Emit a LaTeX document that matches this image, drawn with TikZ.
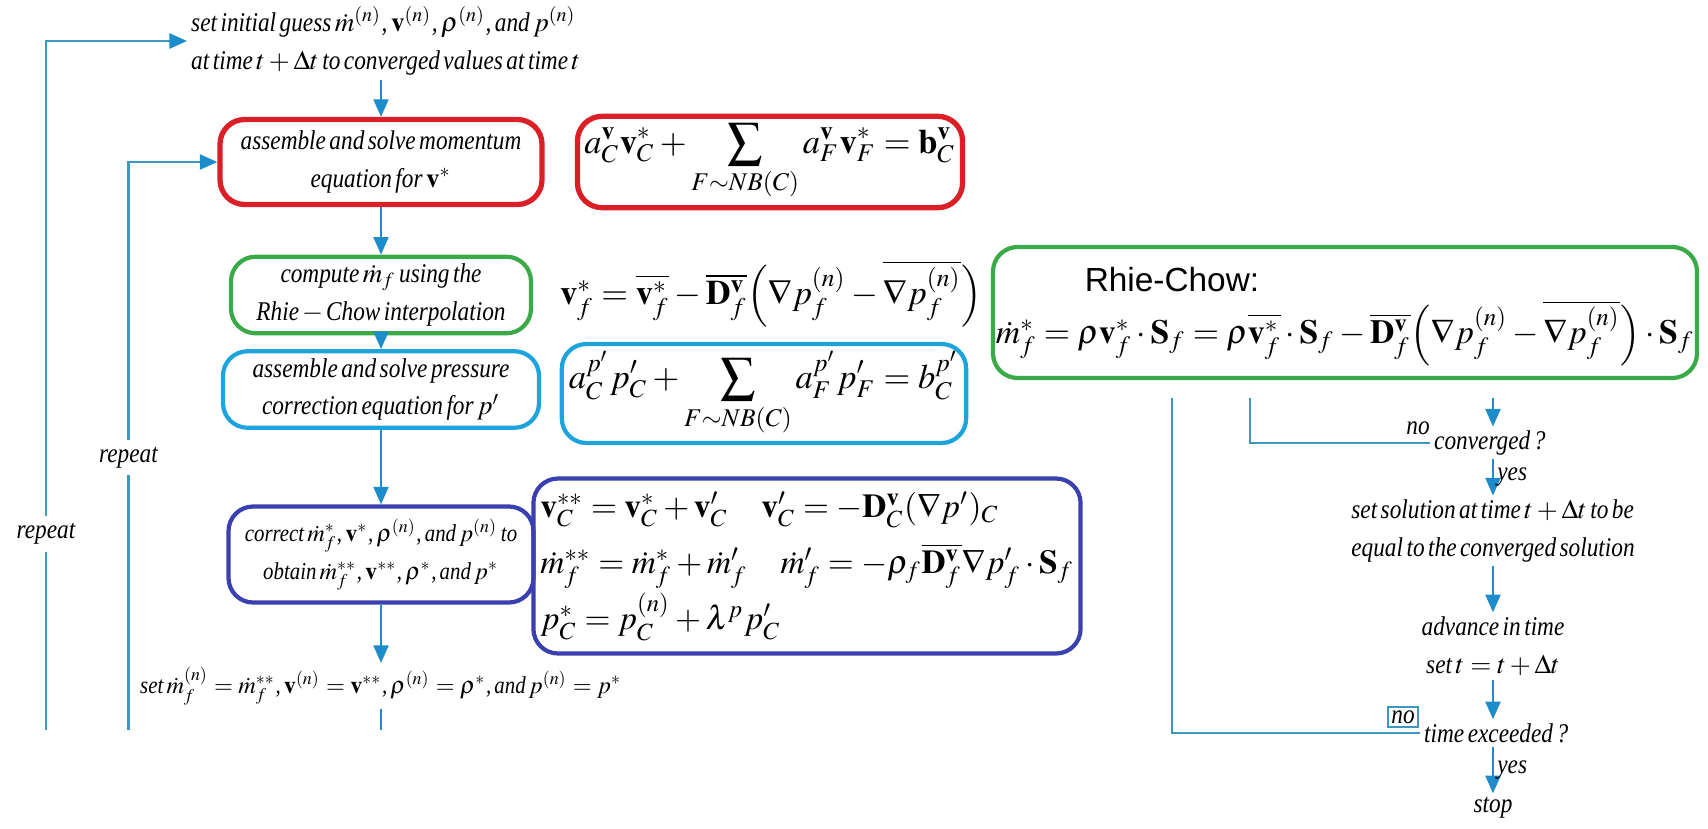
\documentclass[tikz,border=0pt]{standalone}
\usepackage{amsmath}
\usepackage{mathptmx}
\usepackage{fontspec}
\setmainfont{Liberation Serif}[FakeStretch=0.86, WordSpace=0.6]
\setsansfont{Liberation Sans}
\usetikzlibrary{arrows.meta, positioning, calc}
\definecolor{cred}{HTML}{DA1F26}
\definecolor{cgreen}{HTML}{3AAA48}
\definecolor{ccyan}{HTML}{1EA4DD}
\definecolor{cpurple}{HTML}{3B40B0}
\definecolor{carrow}{HTML}{1C8CCA}
\definecolor{cloop}{HTML}{3C98BE}
\tikzset{
  every picture/.style={font=\itshape\fontsize{7.7}{10.8}\selectfont},
  box/.style={draw=#1, rounded corners=7pt, line width=1.2pt, align=center, inner sep=2pt},
  box/.default=cred,
  eqbox/.style={draw=#1, rounded corners=7pt, line width=1.2pt, inner sep=2pt, font=\normalfont\fontsize{9.8}{15}\selectfont},
  eq/.style={inner sep=1pt, font=\normalfont\fontsize{9.8}{15}\selectfont},
  arrow/.style={-{Triangle[length=5pt, width=4.3pt]}, draw=carrow, line width=0.5pt},
  looparrow/.style={-{Triangle[length=5pt, width=4.3pt, color=carrow]}, draw=cloop, line width=0.6pt},
  loopline/.style={draw=cloop, line width=0.6pt},
  gap/.style={fill=white, inner sep=2pt},
  txt/.style={align=center, inner sep=1pt},
  small/.style={font=\itshape\fontsize{6.9}{10.8}\selectfont},
}
\newcommand{\vb}{\mathbf{v}}

\begin{document}
\begin{tikzpicture}
  \useasboundingbox (0,0) rectangle (17.08,-8.28);
  % main column
  \node[txt, align=left, anchor=west] (init) at (1.87,-0.41)
    {set initial guess $\dot{m}^{(n)}$, $\vb^{(n)}$, $\rho^{(n)}$, and $p^{(n)}$\\ at time $t+\Delta t$ to converged values at time $t$};
  \node[box=cred, line width=1.5pt, minimum width=3.22cm, minimum height=0.85cm] (mom) at (3.81,-1.62)
    {assemble and solve momentum\\ equation for $\vb^{*}$};
  \node[eqbox=cred, line width=1.5pt, minimum width=3.78cm, minimum height=0.85cm] (momeq) at (7.70,-1.62)
    {$\displaystyle a_C^{\vb}\vb_C^* + \sum_{F\sim NB(C)} a_F^{\vb}\vb_F^* = \mathbf{b}_C^{\vb}$};
  \node[box=cgreen, minimum width=3.00cm, minimum height=0.68cm] (rc) at (3.81,-2.95)
    {compute $\dot{m}_f$ using the\\ Rhie$\,-\,$Chow interpolation};
  \node[eq] (rceq) at (7.71,-2.94)
    {$\vb_f^* = \overline{\vb_f^*} - \overline{\mathbf{D}_f^{\vb}}\Bigl(\nabla p_f^{(n)} - \overline{\nabla p_f^{(n)}}\Bigr)$};
  \node[box=ccyan, minimum width=3.16cm, minimum height=0.71cm] (pc) at (3.81,-3.895)
    {assemble and solve pressure\\ correction equation for $p'$};
  \node[eqbox=ccyan, minimum width=3.90cm, minimum height=0.95cm] (pceq) at (7.64,-3.935)
    {$\displaystyle a_C^{p'}p'_C + \sum_{F\sim NB(C)} a_F^{p'}p'_F = b_C^{p'}$};
  \node[box=cpurple, small, minimum width=3.05cm, minimum height=0.96cm] (corr) at (3.81,-5.545)
    {correct $\dot{m}_f^*$, $\vb^*$, $\rho^{(n)}$, and $p^{(n)}$ to\\ obtain $\dot{m}_f^{**}$, $\vb^{**}$, $\rho^*$, and $p^*$};
  \node[eqbox=cpurple, font=\normalfont\fontsize{9.5}{16}\selectfont, minimum width=5.32cm, minimum height=1.75cm, align=left] (correq) at (8.07,-5.66)
    {$\vb_C^{**} = \vb_C^* + \vb'_C \quad \vb'_C = -\mathbf{D}_C^{\vb}(\nabla p')_C$\\
     $\dot{m}_f^{**} = \dot{m}_f^* + \dot{m}'_f \quad \dot{m}'_f = -\rho_f\overline{\mathbf{D}_f^{\vb}}\nabla p'_f\cdot\mathbf{S}_f$\\
     $p_C^* = p_C^{(n)} + \lambda^p p'_C$};
  \node[txt, small] (upd) at (3.81,-6.86)
    {set $\dot{m}_f^{(n)} = \dot{m}_f^{**}$, $\vb^{(n)} = \vb^{**}$, $\rho^{(n)} = \rho^*$, and $p^{(n)} = p^*$};
  % Rhie-Chow
  \node[eqbox=cgreen, minimum width=7.04cm, minimum height=1.31cm] (rcbox) at (13.45,-3.125) {};
  \node[font=\sffamily\upshape\fontsize{9.5}{10}\selectfont, inner sep=0pt] (rctitle) at (11.72,-2.80) {Rhie-Chow:};
  \node[eq, font=\normalfont\fontsize{9.6}{15}\selectfont] (rcfull) at (13.45,-3.33)
    {$\dot{m}_f^* = \rho\vb_f^*\cdot\mathbf{S}_f = \rho\overline{\vb_f^*}\cdot\mathbf{S}_f - \overline{\mathbf{D}_f^{\vb}}\Bigl(\nabla p_f^{(n)} - \overline{\nabla p_f^{(n)}}\Bigr)\cdot\mathbf{S}_f$};
  % arrows down the column
  \draw[arrow] (init.south -| mom.north) -- (mom);
  \draw[arrow] (mom) -- (rc);
  \draw[arrow] (rc) -- (pc);
  \draw[arrow] (pc) -- (corr);
  \draw[arrow] (corr) -- (upd);
  \coordinate (colend) at (3.81,-7.30);
  \draw[loopline, draw=carrow, line width=0.5pt] (upd) -- (colend);
  % repeat loops
  \coordinate (outer) at (0.46,-7.30);
  \coordinate (inner) at (1.285,-7.30);
  \draw[looparrow] (outer) |- (init.west);
  \draw[looparrow] (inner) |- (mom.west);
  \node[gap] (rep1) at (0.46,-5.34) {repeat};
  \node[gap] (rep2) at (1.285,-4.575) {repeat};
  % time loop
  \node[txt, anchor=west] (conv) at (14.30,-4.43) {converged ?};
  \node[txt] (no1) at (14.18,-4.28) {no};
  \node[txt, align=left] (setsol) at (14.93,-5.31) {set solution at time $t+\Delta t$ to be\\ equal to the converged solution};
  \node[txt] (adv) at (14.93,-6.46) {advance in time\\ set $t=t+\Delta t$};
  \node[txt, anchor=west] (tex) at (14.20,-7.33) {time exceeded ?};
  \node[txt, draw=cloop, line width=0.5pt] (no2) at (14.03,-7.17) {no};
  \node[txt] (stop) at (14.93,-8.08) {stop};
  \coordinate (cin) at (14.93,-3.976);
  \coordinate (ca) at (12.50,-3.976);
  \coordinate (cb) at (11.72,-3.976);
  \draw[arrow] (cin) -- (cin |- conv.north);
  \draw[arrow] (conv.south -| setsol) -- node[txt, right] (yes1) {yes} (setsol);
  \draw[arrow] (setsol) -- (adv);
  \draw[arrow] (adv.south) -- (adv.south |- tex.north);
  \draw[arrow] (tex.south -| stop) -- node[txt, right] (yes2) {yes} (stop);
  \draw[loopline] (conv.west) -- (conv.west -| ca) -- (ca);
  \draw[loopline] (tex.west) -- (tex.west -| cb) -- (cb);
\end{tikzpicture}
\end{document}
